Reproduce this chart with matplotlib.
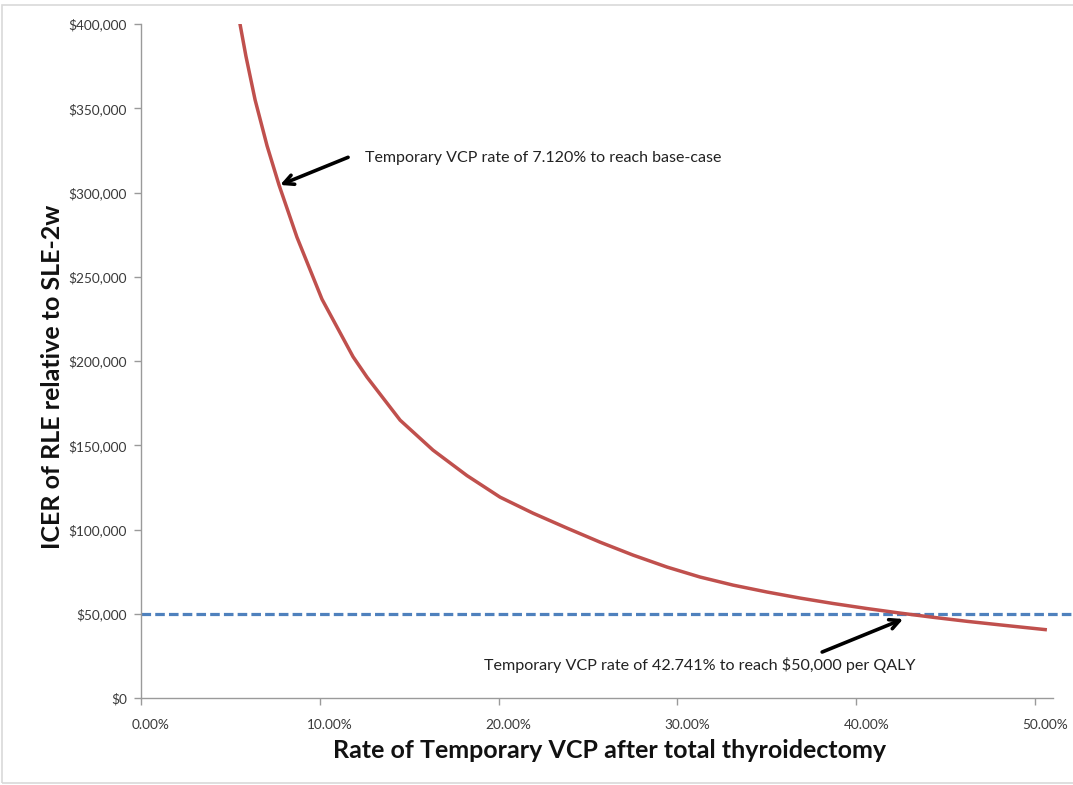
import numpy as np
import matplotlib
matplotlib.use("Agg")
import matplotlib.pyplot as plt
from matplotlib.ticker import FuncFormatter
from matplotlib.patches import Rectangle
import matplotlib.transforms as mtransforms

plt.rcParams['font.family'] = ['Lato', 'DejaVu Sans']

# rate of temporary VCP (%) and ICER
vcp_rate = [5.54, 5.87, 6.38, 7.05, 7.72, 8.72, 10.12, 11.86, 12.64, 14.49, 16.33,
            18.23, 20.08, 21.92, 23.83, 25.67, 27.52, 29.42, 31.26, 33.11, 35.01,
            36.86, 38.70, 40.60, 42.45, 44.30, 46.20, 48.04, 50.56]
icer = [399800, 380800, 355000, 327700, 304400, 273500, 236700, 202500, 190400, 164900, 147100,
        132000, 119200, 109700, 100800, 92500, 84800, 77700, 71800, 67000, 62900,
        59300, 56100, 53100, 50400, 47900, 45500, 43400, 40600]

threshold = 50000
threshold_span = [0.0, 52.1]

note_base = "Temporary VCP rate of 7.120% to reach base-case"
note_wtp = r"Temporary VCP rate of 42.741% to reach \$50,000 per QALY"

x_ticks = [0, 10, 20, 30, 40, 50]
y_ticks = [0, 50000, 100000, 150000, 200000, 250000, 300000, 350000, 400000]

fig = plt.figure(figsize=(10.73, 7.85), dpi=100)
ax = fig.add_axes([0.1314, 0.1108, 0.85, 0.8586])

# light chart border
fig.patches.append(Rectangle((0.002, 0.003), 1.2, 0.99, transform=fig.transFigure,
                             fill=False, edgecolor='#d9d9d9', lw=1.2))

ax.plot(threshold_span, [threshold, threshold], color='#4F81BD', lw=2.3,
        dashes=(3.0, 1.3), solid_capstyle='butt', clip_on=False, zorder=2)
ax.plot(vcp_rate, icer, color='#C0504D', lw=2.5, zorder=3, solid_joinstyle='round')

ax.set_xlim(0, 51.0)
ax.set_ylim(0, 400000)
ax.set_xticks(x_ticks)
ax.set_yticks(y_ticks)
ax.xaxis.set_major_formatter(FuncFormatter(lambda v, p: f"{v:.2f}%"))
ax.yaxis.set_major_formatter(FuncFormatter(lambda v, p: "\\$" + f"{int(v):,}"))

for s in ['top', 'right']:
    ax.spines[s].set_visible(False)
for s in ['left', 'bottom']:
    ax.spines[s].set_color('#9a9a9a')
    ax.spines[s].set_linewidth(1.0)
ax.tick_params(axis='both', colors='#9a9a9a', length=5, width=1.0,
               labelcolor='#3a3a3a', labelsize=9.8)
ax.tick_params(axis='x', pad=10)
ax.tick_params(axis='y', pad=5)

# x labels sit a little right of their ticks in the original
offset = mtransforms.ScaledTranslation(10 / 100, 0, fig.dpi_scale_trans)
for lbl in ax.get_xticklabels():
    lbl.set_transform(lbl.get_transform() + offset)

ax.set_xlabel("Rate of Temporary VCP after total thyroidectomy",
              fontsize=18, fontweight='bold', labelpad=6, color='#111111')
ax.set_ylabel("ICER of RLE relative to SLE-2w",
              fontsize=18, fontweight='bold', labelpad=3, color='#111111')
ax.xaxis.label.set_x(0.514)
ax.yaxis.label.set_y(0.476)

# annotations
arrow = dict(arrowstyle='->,head_length=0.7,head_width=0.35', color='black', lw=2.6,
             shrinkA=0, shrinkB=0)
ax.annotate("", xy=(7.78, 304500), xytext=(11.58, 320900), arrowprops=arrow)
ax.text(12.55, 320300, note_base, fontsize=11.5, va='center', ha='left', color='#222222')
ax.annotate("", xy=(42.62, 46900), xytext=(38.09, 27300), arrowprops=arrow)
ax.text(19.18, 19600, note_wtp, fontsize=11.6, va='center', ha='left', color='#222222')

fig.savefig("out.png", dpi=100, facecolor='white')
